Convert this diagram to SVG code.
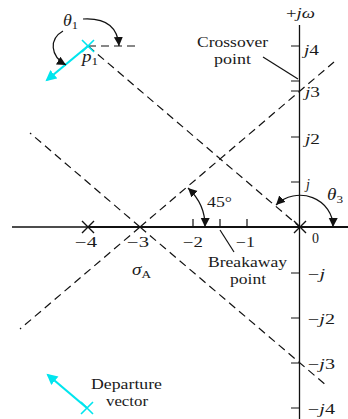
<svg xmlns="http://www.w3.org/2000/svg" width="348" height="419" viewBox="0 0 348 419">
<defs>
<style>
text{font-family:"Liberation Serif","Times New Roman",serif;font-size:14px;fill:#1a1a1a}
.i{font-style:italic}
.m{font-size:16px}
.s{font-size:11px;font-style:normal}
.ax{stroke:#111;stroke-width:1.3;fill:none}
.rl{stroke:#111;stroke-width:2;fill:none}
.dash{stroke:#111;stroke-width:1.2;stroke-dasharray:8 5;fill:none}
.tick{stroke:#111;stroke-width:1.2}
.ptr{stroke:#111;stroke-width:1.2}
.arc{stroke:#111;stroke-width:1.2;fill:none}
.x{stroke:#111;stroke-width:1.4}
.cx{stroke:#00e5ee;stroke-width:1.6}
.cy{stroke:#00e5ee;stroke-width:2.2;fill:none;marker-end:url(#ahc)}
</style>
<marker id="ah" markerUnits="userSpaceOnUse" viewBox="0 0 10 10" markerWidth="10" markerHeight="10" refX="9" refY="4.5" orient="auto-start-reverse"><path d="M0,0 L9,4.5 L0,9 z" fill="#111"/></marker>
<marker id="ahc" markerUnits="userSpaceOnUse" viewBox="0 0 12 12" markerWidth="12" markerHeight="12" refX="9" refY="5.5" orient="auto"><path d="M0,0 L11,5.5 L0,11 z" fill="#00e5ee"/></marker>
</defs>

<g id="connectors">
<path class="dash" d="M140,227 L334,62 M140,227 L20,329"/>
<path class="dash" d="M140,227 L327,386 M140,227 L30,133"/>
<path class="dash" d="M88,46 L300,227"/>
<path class="dash" d="M88,46 L138,46"/>
</g>

<g id="axes">
<line class="ax" x1="299.5" y1="25" x2="299.5" y2="419"/>
<line class="ax" x1="12" y1="227" x2="88" y2="227"/>
<line class="rl" x1="88" y1="227" x2="348" y2="227"/>
<path class="tick" d="M193,219 V227 M220,219 V227 M247,219 V227"/>
<path class="tick" d="M291,46 H299 M291,81 H299 M291,91 H299 M291,137 H299 M291,182 H299 M291,273 H299 M291,318 H299 M291,363 H299 M291,408 H299"/>
</g>

<g id="pole-m4"><path class="x" d="M82,221 L94,233 M94,221 L82,233"/></g>
<g id="pole-0"><path class="x" d="M294,221 L306,233 M306,221 L294,233"/></g>
<g id="pole-p1">
<path class="cx" d="M82,40 L94,52 M94,40 L82,52"/>
<path class="cy" d="M88,46 L47,80"/>
</g>
<g id="pole-p1conj">
<path class="cx" d="M81,402 L93,414 M93,402 L81,414"/>
<path class="cy" d="M87,408 L48,375"/>
</g>

<g id="angles">
<path class="arc" d="M83,19 Q117,17 119,46" marker-end="url(#ah)"/>
<path class="arc" d="M63,31 C49,39 50,56 66,65" marker-end="url(#ah)"/>
<path class="arc" d="M276,205 A33,31 0 0 1 333,227" marker-start="url(#ah)" marker-end="url(#ah)"/>
<path class="arc" d="M188,188 A65,56 0 0 1 205,227" marker-start="url(#ah)" marker-end="url(#ah)"/>
</g>

<g id="pointers">
<line class="ptr" x1="263" y1="57" x2="298" y2="79"/>
<line class="ptr" x1="220" y1="230" x2="234" y2="252"/>
</g>

<g id="labels">
<text x="286" y="18" textLength="29" lengthAdjust="spacingAndGlyphs">+<tspan class="i">jω</tspan></text>
<text x="304" y="55" textLength="15" lengthAdjust="spacingAndGlyphs"><tspan class="i">j</tspan>4</text>
<text x="305" y="97" textLength="15" lengthAdjust="spacingAndGlyphs"><tspan class="i">j</tspan>3</text>
<text x="305" y="144" textLength="15" lengthAdjust="spacingAndGlyphs"><tspan class="i">j</tspan>2</text>
<text x="306" y="189" class="i">j</text>
<text x="308" y="279" textLength="17" lengthAdjust="spacingAndGlyphs">−<tspan class="i">j</tspan></text>
<text x="308" y="324" textLength="27" lengthAdjust="spacingAndGlyphs">−<tspan class="i">j</tspan>2</text>
<text x="308" y="369" textLength="27" lengthAdjust="spacingAndGlyphs">−<tspan class="i">j</tspan>3</text>
<text x="308" y="414" textLength="27" lengthAdjust="spacingAndGlyphs">−<tspan class="i">j</tspan>4</text>
<text x="75" y="247" textLength="22" lengthAdjust="spacingAndGlyphs">−4</text>
<text x="127" y="247" textLength="22" lengthAdjust="spacingAndGlyphs">−3</text>
<text x="183" y="247" textLength="20" lengthAdjust="spacingAndGlyphs">−2</text>
<text x="236" y="247" textLength="19" lengthAdjust="spacingAndGlyphs">−1</text>
<text x="312" y="243">0</text>
<text x="132" y="275" textLength="19" lengthAdjust="spacingAndGlyphs"><tspan class="i m">σ</tspan><tspan class="s i" dy="3">A</tspan></text>
<text x="207" y="207" textLength="25" lengthAdjust="spacingAndGlyphs">45°</text>
<text x="327" y="200" textLength="16" lengthAdjust="spacingAndGlyphs"><tspan class="i m">θ</tspan><tspan class="s" dy="3">3</tspan></text>
<text x="63" y="26" textLength="15" lengthAdjust="spacingAndGlyphs"><tspan class="i m">θ</tspan><tspan class="s" dy="3">1</tspan></text>
<text x="82" y="62" textLength="16" lengthAdjust="spacingAndGlyphs"><tspan class="i m">p</tspan><tspan class="s" dy="3">1</tspan></text>
<text x="197" y="47" textLength="71" lengthAdjust="spacingAndGlyphs">Crossover</text>
<text x="214" y="64" textLength="37" lengthAdjust="spacingAndGlyphs">point</text>
<text x="208" y="267" textLength="79" lengthAdjust="spacingAndGlyphs">Breakaway</text>
<text x="230" y="284" textLength="36" lengthAdjust="spacingAndGlyphs">point</text>
<text x="91" y="389" textLength="71" lengthAdjust="spacingAndGlyphs">Departure</text>
<text x="106" y="406" textLength="42" lengthAdjust="spacingAndGlyphs">vector</text>
</g>
</svg>
